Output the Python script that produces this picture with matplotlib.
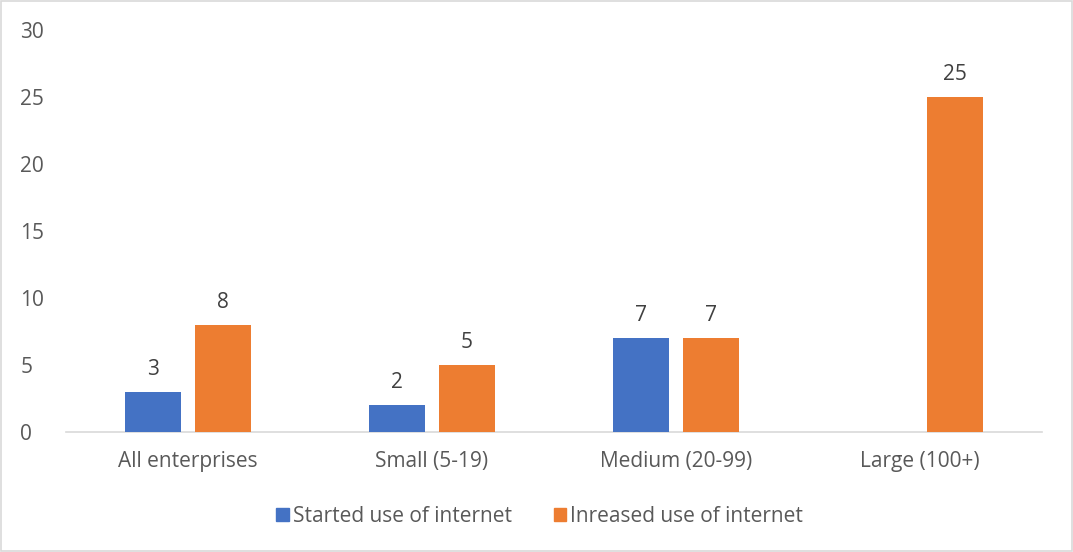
import numpy as np
import matplotlib.pyplot as plt
from matplotlib.patches import Rectangle

plt.rcParams['font.family'] = ['Open Sans', 'DejaVu Sans']

categories = ['All enterprises', 'Small (5-19)', 'Medium (20-99)', 'Large (100+)']
started = [3, 2, 7, None]
increased = [8, 5, 7, 25]
series_names = ['Started use of internet', 'Inreased use of internet']

blue = '#4472C4'
orange = '#ED7D31'
text_col = '#595959'
fs = 15

fig = plt.figure(figsize=(10.73, 5.52), dpi=100)
ax = fig.add_axes([66 / 1073, 1 - 432 / 552, (1042 - 66) / 1073, (432 - 30) / 552])

x = np.arange(len(categories))
w = 0.23
off = 0.143

# missing values are simply not drawn
for i, v in enumerate(started):
    if v is None:
        continue
    ax.bar(x[i] - off, v, w, color=blue, zorder=3)
    ax.text(x[i] - off, v + 0.9, str(v), ha='center', va='bottom', fontsize=fs, color='#404040')
for i, v in enumerate(increased):
    ax.bar(x[i] + off, v, w, color=orange, zorder=3)
    ax.text(x[i] + off, v + 0.9, str(v), ha='center', va='bottom', fontsize=fs, color='#404040')

ax.set_xlim(-0.5, len(categories) - 0.5)
ax.set_ylim(0, 30)
ax.set_yticks(range(0, 31, 5))
ax.set_xticks(x)
ax.set_xticklabels(categories)
ax.tick_params(axis='both', length=0, labelsize=fs, colors=text_col)
ax.tick_params(axis='y', pad=33)
ax.tick_params(axis='x', pad=14)
for side in ['top', 'right', 'left']:
    ax.spines[side].set_visible(False)
ax.spines['bottom'].set_color('#D9D9D9')
ax.spines['bottom'].set_linewidth(1.2)
for lbl in ax.get_yticklabels():
    lbl.set_horizontalalignment('left')

handles = [Rectangle((0, 0), 1, 1, color=blue), Rectangle((0, 0), 1, 1, color=orange)]
fig.legend(handles, series_names, loc='center', bbox_to_anchor=(0.503, 1 - 516 / 552),
           ncol=2, frameon=False, fontsize=fs, handlelength=0.6, handleheight=0.6,
           handletextpad=0.2, columnspacing=2.0, labelcolor=text_col)

# thin frame round the whole chart area
fig.patches.append(Rectangle((0.001, 0.002), 0.998, 0.996, transform=fig.transFigure,
                             fill=False, edgecolor='#D9D9D9', linewidth=1.2))

fig.savefig('out.png', dpi=100)
